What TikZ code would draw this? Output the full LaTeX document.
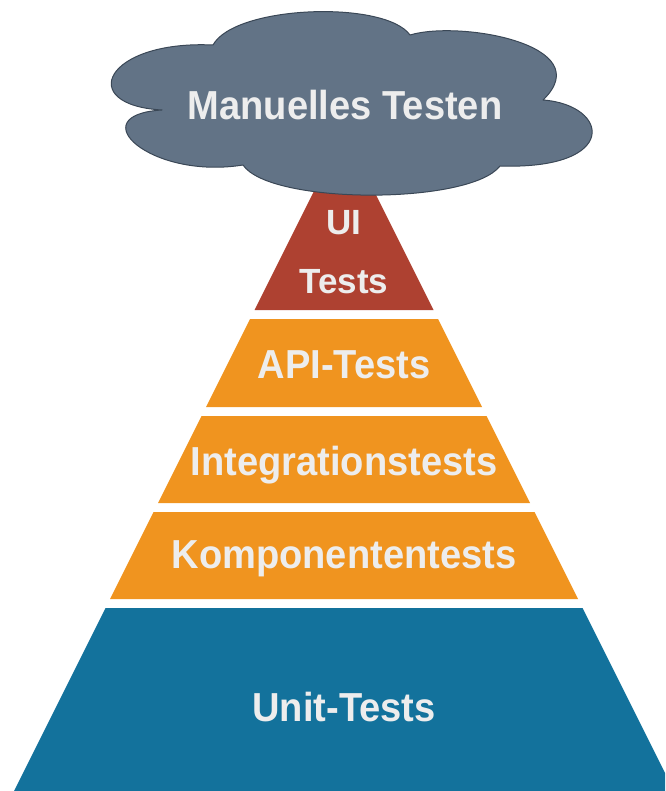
\documentclass[tikz,border=0pt]{standalone}
\usepackage{fontspec}
\usepackage{graphicx}
\setmainfont{Liberation Sans}
\definecolor{cloudfill}{HTML}{627386}
\definecolor{cloudline}{HTML}{3A4756}
\definecolor{uired}{HTML}{AE4131}
\definecolor{midorange}{HTML}{F0941F}
\definecolor{unitblue}{HTML}{13729C}
\definecolor{labelgray}{HTML}{EDEDED}
\newcommand{\narrow}[1]{\scalebox{0.94}[1]{#1}}
\tikzset{
  lbl/.style={anchor=base, text=labelgray, inner sep=0pt, font=\fontsize{40.5}{46}\selectfont\bfseries},
  uilbl/.style={anchor=base, text=labelgray, inner sep=0pt, font=\fontsize{35}{40}\selectfont\bfseries},
  band/.style={draw=none}
}
\begin{document}
\begin{tikzpicture}[x=1pt,y=-1pt]
\useasboundingbox (0,0) rectangle (665,791);
\clip (0,0) rectangle (665,791);
% pyramid bands
\fill[band, uired] (344,131) -- (433.5,310) -- (254.5,310) -- cycle;
\fill[band, midorange] (250,319) -- (438,319) -- (482,407) -- (206,407) -- cycle;
\fill[band, midorange] (201.5,416) -- (486.5,416) -- (530,503) -- (158,503) -- cycle;
\fill[band, midorange] (153.5,512) -- (534.5,512) -- (578,599) -- (110,599) -- cycle;
\fill[band, unitblue] (105.5,608) -- (582.5,608) -- (674,791) -- (14,791) -- cycle;
% cloud
\filldraw[fill=cloudfill, draw=cloudline, line width=1pt, line join=round]
  (213,45) .. controls (235,5) and (385,0) .. (410,35)
  .. controls (460,20) and (600,45) .. (543,100)
  .. controls (610,105) and (620,170) .. (500,166)
  .. controls (470,205) and (270,205) .. (243,165)
  .. controls (150,180) and (80,115) .. (162,110)
  .. controls (75,105) and (105,40) .. (213,45) -- cycle;
% labels
\node[lbl] (manual) at (345,120) {\narrow{Manuelles Testen}};
\node[uilbl] (ui1) at (344,235) {UI};
\node[uilbl] (ui2) at (344,293) {Tests};
\node[lbl] (api) at (344,378) {\narrow{API-Tests}};
\node[lbl] (integ) at (344,475) {\narrow{Integrationstests}};
\node[lbl] (komp) at (344,568) {\narrow{Komponententests}};
\node[lbl] (unit) at (344,721) {\narrow{Unit-Tests}};
\end{tikzpicture}
\end{document}
